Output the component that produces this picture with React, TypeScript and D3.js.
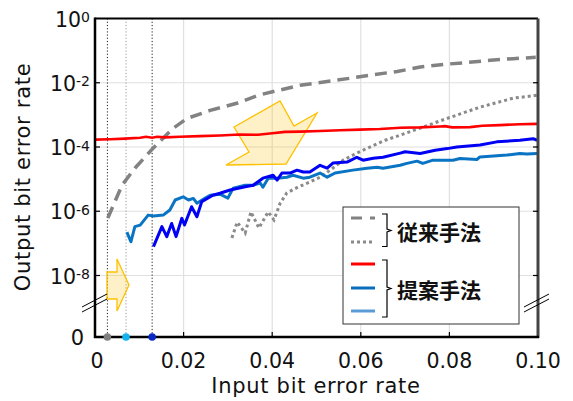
import React from "react";
import * as d3 from "d3";

// ---------- data (x = input BER, y = log10 of output BER) ----------
const xTickValues = [0, 0.02, 0.04, 0.06, 0.08, 0.1];
const xTickLabels = ["0", "0.02", "0.04", "0.06", "0.08", "0.10"];
const yTickExponents = [0, -2, -4, -6, -8];
const yGridExponents = [-2, -4, -6, -8];

const conventionalDashed: [number, number][] = [
  [0.0029, -6.21], [0.0061, -5.19], [0.009, -4.66], [0.0131, -4.04], [0.0176, -3.42],
  [0.0208, -3.11], [0.026, -2.86], [0.032, -2.64], [0.0368, -2.39], [0.0413, -2.24],
  [0.0463, -2.08], [0.0524, -1.96], [0.0576, -1.86], [0.0628, -1.75], [0.0682, -1.65],
  [0.0734, -1.51], [0.0786, -1.43], [0.084, -1.37], [0.0892, -1.3], [0.0944, -1.25],
  [0.0995, -1.21],
];

const conventionalDotted: [number, number][] = [
  [0.0309, -6.83], [0.0321, -6.34], [0.0339, -6.68], [0.0352, -6.02], [0.037, -6.52],
  [0.0391, -6.02], [0.0404, -6.27], [0.0418, -5.75], [0.0433, -5.43], [0.0458, -5.25],
  [0.0485, -5.09], [0.0508, -4.94], [0.0531, -4.72], [0.056, -4.41], [0.0591, -4.19],
  [0.0614, -4.04], [0.0655, -3.79], [0.0689, -3.63], [0.0795, -3.11], [0.0869, -2.76],
  [0.0944, -2.48], [0.0998, -2.39],
];

const proposedRed: [number, number][] = [
  [0.0, -3.77], [0.0034, -3.76], [0.0068, -3.74], [0.0102, -3.71], [0.0115, -3.68],
  [0.0129, -3.71], [0.014, -3.68], [0.0158, -3.7], [0.0192, -3.68], [0.0237, -3.66],
  [0.0282, -3.64], [0.0327, -3.61], [0.0368, -3.62], [0.04, -3.57], [0.0429, -3.53],
  [0.0463, -3.52], [0.0508, -3.5], [0.0553, -3.48], [0.0598, -3.46], [0.0643, -3.44],
  [0.0689, -3.4], [0.0734, -3.39], [0.0779, -3.36], [0.079, -3.35], [0.0806, -3.39],
  [0.0847, -3.38], [0.0874, -3.34], [0.0914, -3.32], [0.0959, -3.29], [0.0998, -3.28],
];

const proposedBlue: [number, number][] = [
  [0.0132, -7.1], [0.0151, -6.48], [0.0162, -6.79], [0.0173, -6.38], [0.0183, -6.79],
  [0.0196, -6.22], [0.0202, -6.43], [0.0218, -5.86], [0.023, -6.17], [0.0241, -5.7],
  [0.0266, -5.5], [0.0282, -5.44], [0.0305, -5.34], [0.0339, -5.24], [0.0357, -5.19],
  [0.0379, -4.97], [0.0402, -4.88], [0.0411, -5.03], [0.0422, -4.81], [0.044, -4.81],
  [0.0456, -4.72], [0.047, -4.78], [0.0485, -4.78], [0.0508, -4.57], [0.0524, -4.66],
  [0.0537, -4.5], [0.0569, -4.47], [0.0591, -4.32], [0.0605, -4.41], [0.0628, -4.35],
  [0.065, -4.32], [0.0689, -4.19], [0.07, -4.15], [0.0734, -4.2], [0.0768, -4.1],
  [0.0795, -4.05], [0.0817, -4.0], [0.0869, -3.94], [0.0907, -3.84], [0.0959, -3.79],
  [0.0989, -3.74], [0.0998, -3.79],
];

const proposedMidBlue: [number, number][] = [
  [0.0072, -6.65], [0.0081, -6.95], [0.009, -6.48], [0.0102, -6.43], [0.012, -6.12],
  [0.0132, -6.15], [0.0154, -6.12], [0.0169, -5.96], [0.0181, -5.65], [0.0199, -5.55],
  [0.0211, -5.65], [0.0222, -5.6], [0.023, -5.75], [0.0248, -5.6], [0.026, -5.5],
  [0.0282, -5.47], [0.03, -5.59], [0.0312, -5.28], [0.0339, -5.19], [0.0357, -5.19],
  [0.0373, -5.12], [0.0379, -5.25], [0.0391, -4.97], [0.0411, -4.97], [0.0433, -4.94],
  [0.0447, -4.88], [0.047, -4.97], [0.0485, -4.94], [0.0508, -4.81], [0.0524, -4.94],
  [0.0542, -4.81], [0.0582, -4.72], [0.0614, -4.66], [0.0637, -4.63], [0.065, -4.66],
  [0.0689, -4.57], [0.0704, -4.51], [0.0727, -4.44], [0.074, -4.51], [0.0763, -4.41],
  [0.0808, -4.41], [0.0824, -4.36], [0.0862, -4.39], [0.0869, -4.31], [0.093, -4.25],
  [0.0959, -4.2], [0.0975, -4.22], [0.0998, -4.2],
];

const markerX = [0.0028, 0.007, 0.0129];
const markerDotColors = ["#808080", "#14b4f0", "#0a28c8"];
const markerLineColors = ["#222", "#999", "#222"];

const legendGroups = ["従来手法", "提案手法"];

// ---------- chart ----------
const W = 573;
const H = 401;
const FONT = "'DejaVu Sans', Verdana, sans-serif";
const CJK = "'Noto Sans CJK JP', 'Noto Sans CJK SC', sans-serif";

export default function App() {
  const x = d3.scaleLinear().domain([0, 0.1]).range([95, 538]);
  const y = d3.scaleLog().domain([1e-8, 1]).range([275.5, 18.5]);
  const zeroY = 337;
  const top = 18.5;
  const left = x(0);
  const right = x(0.1);

  const line = d3
    .line<[number, number]>()
    .x((d) => x(d[0]))
    .y((d) => y(Math.pow(10, d[1])));

  const bigArrow = [
    [234, 127], [280, 101], [294, 126], [317, 113], [286, 164], [226, 165], [249, 152],
  ];
  const smallArrow = [
    [107, 272], [117, 272], [117, 259], [129, 285], [117, 311], [117, 299], [107, 299],
  ];
  const poly = (pts: number[][]) => pts.map((p) => p.join(",")).join(" ");

  return (
    <svg
      width={W}
      height={H}
      viewBox={`0 0 ${W} ${H}`}
      style={{ position: "absolute", left: 0, top: 0, background: "#fff" }}
    >
      <rect x={0} y={0} width={W} height={H} fill="#fff" />
      {/* grid */}
      {yGridExponents.map((e) => (
        <line key={"gy" + e} x1={left} x2={right} y1={y(Math.pow(10, e))} y2={y(Math.pow(10, e))}
          stroke="#e0e0e0" strokeWidth={1.2} />
      ))}
      {xTickValues.slice(1, -1).map((v) => (
        <line key={"gx" + v} x1={x(v)} x2={x(v)} y1={top} y2={zeroY} stroke="#e0e0e0" strokeWidth={1.2} />
      ))}

      {/* marker vertical dotted lines */}
      {markerX.map((v, i) => (
        <line key={"mv" + i} x1={x(v)} x2={x(v)} y1={top} y2={zeroY}
          stroke={markerLineColors[i]} strokeWidth={1} strokeDasharray="1.2,2" />
      ))}

      {/* arrows */}
      <polygon points={poly(bigArrow)} fill="#ffc000" fillOpacity={0.22} stroke="#ffc000" strokeWidth={1.3} strokeLinejoin="miter" />
      <polygon points={poly(smallArrow)} fill="#ffc000" fillOpacity={0.22} stroke="#ffc000" strokeWidth={1.3} />

      {/* curves */}
      <path d={line(conventionalDashed) || ""} fill="none" stroke="#828282" strokeWidth={3.5} strokeDasharray="12,7" />
      <path d={line(conventionalDotted) || ""} fill="none" stroke="#8a8a8a" strokeWidth={3} strokeDasharray="3,3" />
      <path d={line(proposedRed) || ""} fill="none" stroke="#ff0000" strokeWidth={2.6} />
      <path d={line(proposedMidBlue) || ""} fill="none" stroke="#0a74c4" strokeWidth={3} strokeLinejoin="round" />
      <path d={line(proposedBlue) || ""} fill="none" stroke="#0000f5" strokeWidth={3} strokeLinejoin="round" />

      {/* frame */}
      <line x1={left} x2={right} y1={top} y2={top} stroke="#000" strokeWidth={2} />
      <line x1={right} x2={right} y1={top} y2={zeroY + 1} stroke="#444" strokeWidth={3} />
      <line x1={left} x2={left} y1={top - 1} y2={zeroY + 1} stroke="#000" strokeWidth={2.5} />
      <line x1={left - 1} x2={right + 1} y1={zeroY} y2={zeroY} stroke="#000" strokeWidth={2.5} />

      {/* ticks */}
      {yGridExponents.map((e) => (
        <g key={"ty" + e}>
          <line x1={left} x2={left + 5} y1={y(Math.pow(10, e))} y2={y(Math.pow(10, e))} stroke="#000" strokeWidth={1.2} />
          <line x1={right - 5} x2={right} y1={y(Math.pow(10, e))} y2={y(Math.pow(10, e))} stroke="#000" strokeWidth={1.2} />
        </g>
      ))}
      {xTickValues.slice(1, -1).map((v) => (
        <line key={"tx" + v} x1={x(v)} x2={x(v)} y1={zeroY - 5} y2={zeroY} stroke="#000" strokeWidth={1.2} />
      ))}

      {/* axis breaks */}
      <line x1={82} y1={307} x2={107} y2={294} stroke="#000" strokeWidth={1} />
      <line x1={82} y1={312} x2={107} y2={299} stroke="#000" strokeWidth={1} />
      <line x1={524} y1={307} x2={549} y2={294} stroke="#000" strokeWidth={1} />
      <line x1={524} y1={312} x2={549} y2={299} stroke="#000" strokeWidth={1} />

      {/* marker dots */}
      {markerX.map((v, i) => (
        <circle key={"md" + i} cx={x(v)} cy={zeroY} r={3.8} fill={markerDotColors[i]} />
      ))}

      {/* y tick labels */}
      {yTickExponents.map((e) => (
        <text key={"yl" + e} x={90} y={y(Math.pow(10, e)) + 8} textAnchor="end"
          fontFamily={FONT} fontSize={20.5} fill="#111">
          10
          <tspan fontSize={14} dy={-4.5}>{String(e)}</tspan>
        </text>
      ))}
      <text x={84} y={zeroY + 7.5} textAnchor="end" fontFamily={FONT} fontSize={21} fill="#111">0</text>

      {/* x tick labels */}
      {xTickValues.map((v, i) => (
        <text key={"xl" + i} x={x(v) + (i === 0 ? 2 : 0)} y={367.5} textAnchor="middle"
          fontFamily={FONT} fontSize={20.5} fill="#111">
          {xTickLabels[i]}
        </text>
      ))}

      {/* axis titles */}
      <text x={316} y={393} textAnchor="middle" fontFamily={FONT} fontSize={21} letterSpacing={0.7} fill="#111">
        Input bit error rate
      </text>
      <text transform="translate(30,177) rotate(-90)" textAnchor="middle" fontFamily={FONT} fontSize={21} letterSpacing={0.7} fill="#111">
        Output bit error rate
      </text>

      {/* legend */}
      <rect x={343} y={207} width={176} height={117} fill="#fff" stroke="#333" strokeWidth={1} />
      <line x1={351} x2={375} y1={218} y2={218} stroke="#828282" strokeWidth={3} strokeDasharray="11,8" />
      <line x1={351} x2={375} y1={242} y2={242} stroke="#8a8a8a" strokeWidth={3} strokeDasharray="3,3" />
      <line x1={351} x2={375} y1={264} y2={264} stroke="#ff0000" strokeWidth={3} />
      <line x1={351} x2={375} y1={288} y2={288} stroke="#0a6ebd" strokeWidth={3} />
      <line x1={351} x2={375} y1={311} y2={311} stroke="#5b9bd5" strokeWidth={3} />
      <path d="M382,214 H387 V229 L391,230.5 L387,232 V246.5 H382" fill="none" stroke="#000" strokeWidth={1.2} />
      <path d="M382,260 H387 V287 L391,288.5 L387,290 V317 H382" fill="none" stroke="#000" strokeWidth={1.2} />
      <text x={397} y={231} dominantBaseline="central" fontFamily={CJK} fontWeight="bold" fontSize={21} fill="#111">
        {legendGroups[0]}
      </text>
      <text x={397} y={289} dominantBaseline="central" fontFamily={CJK} fontWeight="bold" fontSize={21} fill="#111">
        {legendGroups[1]}
      </text>
    </svg>
  );
}
